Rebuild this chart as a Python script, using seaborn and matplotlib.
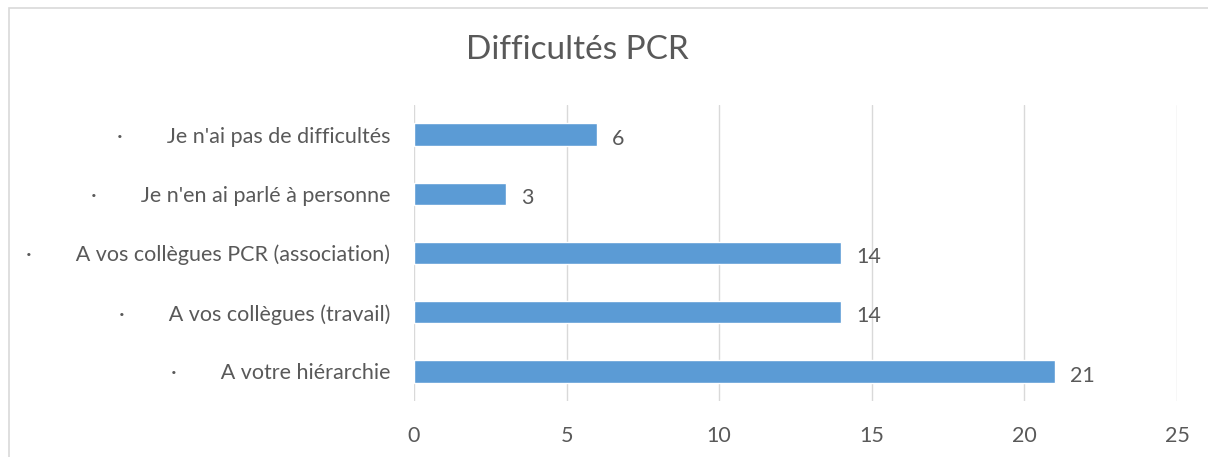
import matplotlib
matplotlib.use('Agg')
import matplotlib.pyplot as plt
import seaborn as sns
import pandas as pd
from matplotlib.patches import Rectangle

# Data (top to bottom)
categories = [
    "Je n'ai pas de difficultés",
    "Je n'en ai parlé à personne",
    "A vos collègues PCR (association)",
    "A vos collègues (travail)",
    "A votre hiérarchie",
]
counts = [6, 3, 14, 14, 21]
x_ticks = [0, 5, 10, 15, 20, 25]

bar_color = '#5B9BD5'
text_color = '#595959'
grid_color = '#D9D9D9'

sns.set_theme(style='white')
plt.rcParams['font.family'] = ['Lato', 'DejaVu Sans']

# tick labels carry the bullet in front, like the original
labels = ['·' + ' ' * 8 + c for c in categories]
df = pd.DataFrame({'label': labels, 'count': counts})

fig = plt.figure(figsize=(12.08, 4.57), dpi=100)
ax = fig.add_axes([0.3427, 0.1225, 0.6316, 0.6477])

sns.barplot(data=df, x='count', y='label', orient='h', color=bar_color,
            width=0.38, saturation=1, ax=ax)

ax.set_xlim(0, 25)
ax.set_ylim(4.5, -0.5)
ax.set_xticks(x_ticks)
ax.xaxis.grid(True, color=grid_color, linewidth=1)
ax.yaxis.grid(False)
ax.set_axisbelow(True)
for s in ax.spines.values():
    s.set_visible(False)

ax.set_xlabel('')
ax.set_ylabel('')
ax.tick_params(axis='x', length=0, pad=18, labelsize=15.5, labelcolor=text_color)
ax.tick_params(axis='y', length=0, pad=17, labelsize=15.5, labelcolor=text_color)

# value labels at the bar ends
for i, v in enumerate(counts):
    ax.annotate(str(v), xy=(v, i), xytext=(11, -1.5), textcoords='offset points',
                ha='left', va='center_baseline', fontsize=15.5, color=text_color)

fig.text(0.4777, 0.89, 'Difficultés PCR', ha='center', va='center',
         fontsize=24, color=text_color)

# light frame around the chart area
fig.patches.append(Rectangle((9 / 1208, -0.2), 1.2, 0.2 + (1 - 8 / 457),
                             transform=fig.transFigure, fill=False,
                             edgecolor=grid_color, linewidth=1.2))

fig.savefig('out.png', dpi=100)
plt.close(fig)
